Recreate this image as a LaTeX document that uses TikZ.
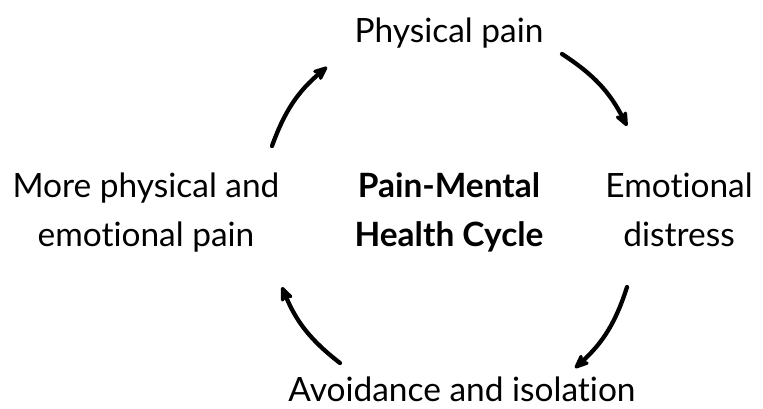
\documentclass[tikz,border=0pt]{standalone}
\usepackage{fontspec}
\setmainfont{Lato}[Ligatures=NoCommon]
\usetikzlibrary{arrows.meta}
\tikzset{
  lbl/.style={anchor=base, align=center, inner sep=0pt, font=\fontsize{25.1}{36.6}\selectfont},
  cyc/.style={line width=3.2pt, line cap=round, -{Stealth[length=15pt,width=12.5pt,inset=5pt,round]}, bend left=15}
}
\begin{document}
\begin{tikzpicture}[x=0.75pt,y=0.75pt]
\useasboundingbox (0,0) rectangle (763,408);
\node[lbl] (top) at (449,365) {Physical pain};
\node[lbl] (right) at (679,162) {Emotional\\distress};
\node[lbl, text depth=0pt] (bottom) at (462,7) {Avoidance and isolation};
\node[lbl] (left) at (146,162) {More physical and\\emotional pain};
\node[lbl, font=\fontsize{25.1}{36.6}\selectfont\bfseries] (center) at (449,162) {Pain-Mental\\Health Cycle};
\coordinate (a1s) at (562,354);
\coordinate (a1e) at (627,282);
\coordinate (a2s) at (627,121);
\coordinate (a2e) at (575,40);
\coordinate (a3s) at (340,45);
\coordinate (a3e) at (282,121);
\coordinate (a4s) at (272,262);
\coordinate (a4e) at (327,341);
\draw[cyc] (a1s) to (a1e);
\draw[cyc] (a2s) to (a2e);
\draw[cyc] (a3s) to (a3e);
\draw[cyc] (a4s) to (a4e);
\end{tikzpicture}
\end{document}
